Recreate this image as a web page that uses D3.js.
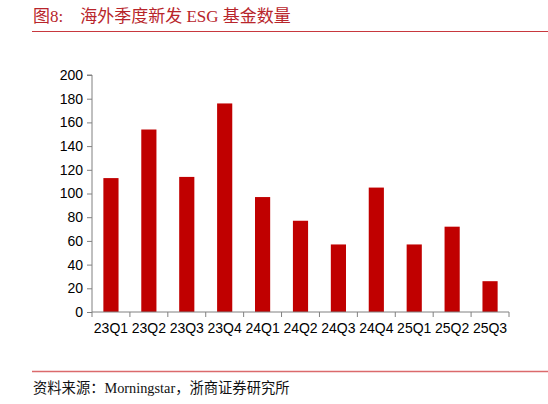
<!DOCTYPE html>
<html>
<head>
<meta charset="UTF-8">
<script src="https://cdn.jsdelivr.net/npm/d3@7"></script>
<style>
    body { margin: 0; background: #fff; }
    .axis path, .axis line { stroke: #808080; }
    .axis text { font-family: "Liberation Sans", Arial, sans-serif; font-size: 14px; fill: #000; }
</style>
</head>
<body>
<div id="chart"></div>
<script>
// data
const quarters = ["23Q1","23Q2","23Q3","23Q4","24Q1","24Q2","24Q3","24Q4","25Q1","25Q2","25Q3"];
const fundCounts = [113, 154, 114, 176, 97, 77, 57, 105, 57, 72, 26];
const yTicks = [0, 20, 40, 60, 80, 100, 120, 140, 160, 180, 200];

const width = 548, height = 404;
const margin = {left: 92, right: 39, top: 75, bottom: 92};

const svg = d3.select("#chart").append("svg")
    .attr("width", width)
    .attr("height", height);

// title + rules
svg.append("text")
    .attr("x", 33).attr("y", 22)
    .attr("fill", "#B8252B")
    .style("font-family", "'Liberation Serif', 'Noto Sans CJK SC', serif")
    .style("font-size", "17px")
    .text("图8:　海外季度新发 ESG 基金数量");
svg.append("line")
    .attr("x1", 32).attr("x2", 548).attr("y1", 31.5).attr("y2", 31.5)
    .attr("stroke", "#C8383E").attr("stroke-width", 1);
svg.append("line")
    .attr("x1", 32).attr("x2", 548).attr("y1", 371.5).attr("y2", 371.5)
    .attr("stroke", "#DB6A6C").attr("stroke-width", 1.5);
svg.append("text")
    .attr("x", 33).attr("y", 393)
    .attr("fill", "#111")
    .style("font-family", "'Liberation Serif', 'Noto Sans CJK SC', serif")
    .style("font-size", "14.3px")
    .text("资料来源：Morningstar，浙商证券研究所");

const x = d3.scaleBand()
    .domain(quarters)
    .range([margin.left, width - margin.right])
    .paddingInner(0.6)
    .paddingOuter(0.3);

const y = d3.scaleLinear()
    .domain([0, 200])
    .range([height - margin.bottom, margin.top]);

svg.selectAll("rect.bar")
    .data(quarters)
    .enter()
    .append("rect")
    .attr("class", "bar")
    .attr("x", d => x(d))
    .attr("width", x.bandwidth())
    .attr("y", (d, i) => y(fundCounts[i]))
    .attr("height", (d, i) => y(0) - y(fundCounts[i]))
    .attr("fill", "#C00000");

// y axis
svg.append("g")
    .attr("class", "axis")
    .attr("transform", `translate(${margin.left},0)`)
    .call(d3.axisLeft(y).tickValues(yTicks).tickSize(5).tickPadding(4))
    .call(g => g.select(".domain").attr("d", `M-5,${y(200)}H0V${y(0)}`));

// x axis, ticks at band boundaries
const xAxis = svg.append("g")
    .attr("class", "axis")
    .attr("transform", `translate(0,${y(0)})`);
xAxis.append("path")
    .attr("d", `M${margin.left},0H${width - margin.right}`)
    .attr("stroke", "#808080");
const x0 = margin.left;
xAxis.selectAll("line.tk")
    .data(d3.range(quarters.length + 1))
    .enter()
    .append("line")
    .attr("x1", i => x0 + i * (width - margin.right - x0) / quarters.length)
    .attr("x2", i => x0 + i * (width - margin.right - x0) / quarters.length)
    .attr("y1", 0).attr("y2", 5);
xAxis.selectAll("text")
    .data(quarters)
    .enter()
    .append("text")
    .attr("x", d => x(d) + x.bandwidth() / 2)
    .attr("y", 21)
    .attr("text-anchor", "middle")
    .text(d => d);
</script>
</body>
</html>
